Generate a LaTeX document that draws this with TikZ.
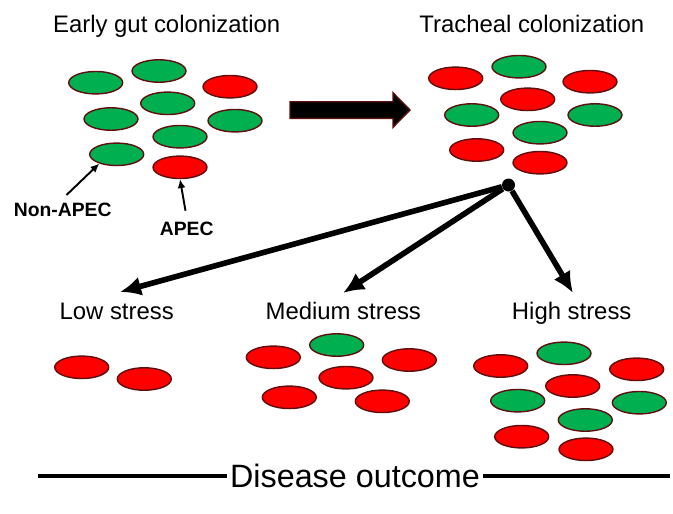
\documentclass[tikz,border=0pt]{standalone}
\usepackage{fontspec}
\setmainfont{Liberation Sans}
\usepackage{tikz}
\usetikzlibrary{shapes.geometric,arrows.meta}
\definecolor{cellgreen}{RGB}{0,176,80}
\definecolor{cellred}{RGB}{255,0,0}
\definecolor{cellrim}{RGB}{95,15,15}
\tikzset{
  cell/.style={ellipse, draw=cellrim, line width=0.8pt, minimum width=1.08cm,
    minimum height=0.45cm, inner sep=0pt},
  caption/.style={font=\fontsize{13.6pt}{16pt}\selectfont, anchor=base, inner sep=1pt},
  tag/.style={font=\fontsize{11pt}{13pt}\selectfont\bfseries, anchor=base, inner sep=2pt},
  fat/.style={line width=3.2pt, -{Latex[length=12pt,width=11pt]}},
  pointer/.style={line width=1.1pt, -{Latex[length=5pt,width=4.5pt]}}
}
\begin{document}
\begin{tikzpicture}[x=0.02cm, y=-0.02cm]
    \useasboundingbox (0,0) rectangle (673,514);
    \node[caption] (gut) at (166.7,32) {Early gut colonization};
    \node[caption] (trachea) at (531.8,32) {Tracheal colonization};
    \foreach \x/\y/\c [count=\i] in {95.7/82.7/cellgreen, 159/71/cellgreen,
        230/86.7/cellred, 167.7/103.3/cellgreen, 111/119/cellgreen,
        235/120.7/cellgreen, 180/136.7/cellgreen, 116.7/154.3/cellgreen,
        180/167.3/cellred}{% early gut population
      \node[cell, fill=\c] (gut\i) at (\x,\y) {};}
    \foreach \x/\y/\c [count=\i] in {455.7/78.3/cellred, 519/66.7/cellgreen,
        590/81.7/cellred, 527.7/99.3/cellred, 471.7/115/cellgreen,
        595/115/cellgreen, 540/132.7/cellgreen, 476.7/150/cellred,
        540/162.7/cellred}{% tracheal population
      \node[cell, fill=\c] (tr\i) at (\x,\y) {};}
    \node[tag] (nonapec) at (62.7,216) {Non-APEC};
    \node[tag] (apec) at (186.7,235) {APEC};
    \draw[pointer, shorten <=3pt] (nonapec.north) -- (gut8.208);
    \draw[pointer, shorten <=4pt] (apec.north) -- (gut9.south);
    % block arrow between the two stages
    \filldraw[fill=black, draw=cellrim, line width=0.8pt] (290,101.7) -- (393,101.7)
        -- (393,92.7) -- (410,110) -- (393,127.3) -- (393,118.3) -- (290,118.3) -- cycle;
    \node[circle, fill=black, minimum size=0.26cm, inner sep=0pt] (hub) at (508.5,185) {};
    \coordinate (lowtip) at (120,292);
    \coordinate (medtip) at (343,293);
    \coordinate (hightip) at (573,293);
    \draw[fat] (hub) -- (lowtip);
    \draw[fat] (hub) -- (medtip);
    \draw[fat] (hub) -- (hightip);
    \node[caption] (low) at (116.7,319) {Low stress};
    \node[caption] (medium) at (343.3,319) {Medium stress};
    \node[caption] (high) at (571.7,319) {High stress};
    \foreach \x/\y/\c [count=\i] in {81.7/367.3/cellred, 144.3/379/cellred}{%
      \node[cell, fill=\c] (lo\i) at (\x,\y) {};}
    \foreach \x/\y/\c [count=\i] in {336.7/345/cellgreen, 273.3/357.3/cellred,
        409.3/360/cellred, 346/377.7/cellred, 289.3/397.3/cellred,
        382.3/401.3/cellred}{%
      \node[cell, fill=\c] (me\i) at (\x,\y) {};}
    \foreach \x/\y/\c [count=\i] in {500.7/366/cellred, 564/353.3/cellgreen,
        636.7/369.3/cellred, 572.7/386/cellred, 517.7/400.7/cellgreen,
        639.3/402.7/cellgreen, 585.3/420/cellgreen, 521.7/436.7/cellred,
        586/449.3/cellred}{%
      \node[cell, fill=\c] (hi\i) at (\x,\y) {};}
    % outcome axis
    \node[font=\fontsize{18.4pt}{22pt}\selectfont, inner sep=1.5pt] (outcome) at (355,476) {Disease outcome};
    \coordinate (axisL) at (38,476);
    \coordinate (axisR) at (670,476);
    \draw[line width=1.8pt] (axisL) -- (outcome) -- (axisR);
  \end{tikzpicture}
\end{document}
